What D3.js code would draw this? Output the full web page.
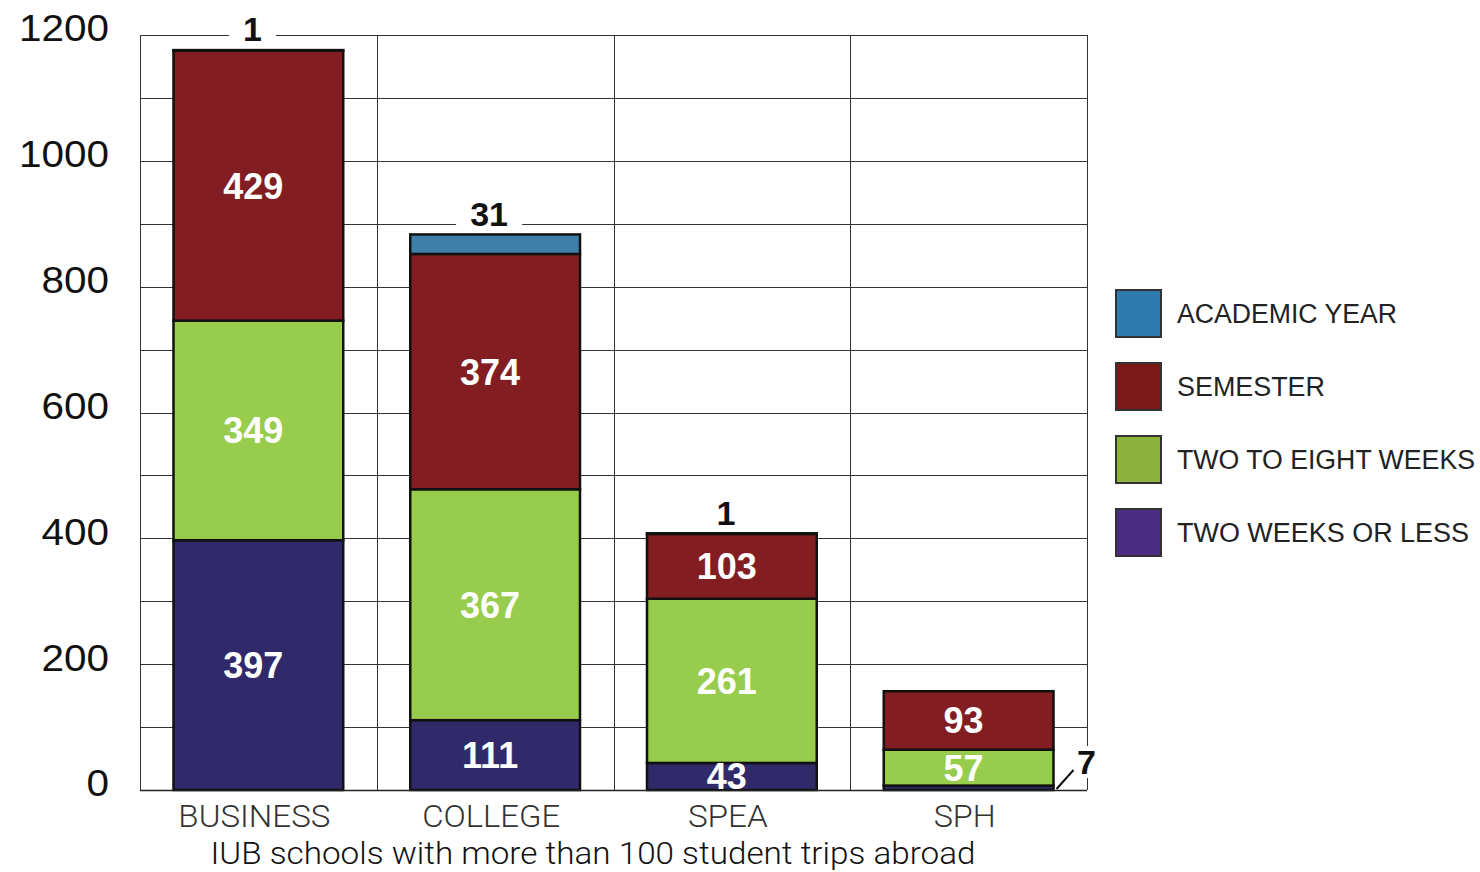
<!DOCTYPE html>
<html>
<head>
<meta charset="utf-8">
<script src="https://cdn.jsdelivr.net/npm/d3@7"></script>
<style>
  html, body { margin: 0; padding: 0; background: #fff; }
  svg { display: block; }
</style>
</head>
<body>
<svg id="chart" width="1480" height="872"></svg>
<script>
// ---------- data ----------
const categories = ["BUSINESS", "COLLEGE", "SPEA", "SPH"];
const seriesNames = ["TWO WEEKS OR LESS", "TWO TO EIGHT WEEKS", "SEMESTER", "ACADEMIC YEAR"];
const twoWeeksOrLess   = [397, 111, 43, 7];
const twoToEightWeeks  = [349, 367, 261, 57];
const semester         = [429, 374, 103, 93];
const academicYear     = [1, 31, 1, 0];
const yTicks = [0, 200, 400, 600, 800, 1000, 1200];
const legendOrder = ["ACADEMIC YEAR", "SEMESTER", "TWO TO EIGHT WEEKS", "TWO WEEKS OR LESS"];
const xTitle = "IUB schools with more than 100 student trips abroad";

// ---------- styles ----------
const barColors = {
  "TWO WEEKS OR LESS": "#302a6a",
  "TWO TO EIGHT WEEKS": "#98cc4c",
  "SEMESTER": "#821e21",
  "ACADEMIC YEAR": "#4080a8"
};
const legendColors = {
  "ACADEMIC YEAR": "#2e7bb0",
  "SEMESTER": "#7b1818",
  "TWO TO EIGHT WEEKS": "#8cb23c",
  "TWO WEEKS OR LESS": "#4a2d82"
};

const rows = categories.map((c, i) => ({
  cat: c,
  "TWO WEEKS OR LESS": twoWeeksOrLess[i],
  "TWO TO EIGHT WEEKS": twoToEightWeeks[i],
  "SEMESTER": semester[i],
  "ACADEMIC YEAR": academicYear[i]
}));

const svg = d3.select("#chart");
const L = 140, R = 1087, T = 35, B = 790;
const numFont = "'Liberation Sans', Arial, sans-serif";

const x = d3.scaleBand().domain(categories).range([L, R]).paddingInner(0.283).paddingOuter(0.1415);
const y = d3.scaleLinear().domain([0, 1200]).range([B, T]);

// grid
const grid = svg.append("g");
grid.selectAll("line.h").data(d3.range(0, 1201, 100)).join("line")
  .attr("x1", L).attr("x2", R)
  .attr("y1", d => Math.round(y(d)) + 0.5).attr("y2", d => Math.round(y(d)) + 0.5)
  .attr("stroke", "#333").attr("stroke-width", 1);
const bounds = [L].concat(categories.map(c => x(c) + x.bandwidth() + x.step() * x.paddingInner() / 2));
bounds[bounds.length - 1] = R;
grid.selectAll("line.v").data(bounds).join("line")
  .attr("x1", d => Math.round(d) + 0.5).attr("x2", d => Math.round(d) + 0.5)
  .attr("y1", T).attr("y2", B)
  .attr("stroke", "#333").attr("stroke-width", 1);

// y-axis labels
const yAxis = d3.axisLeft(y).tickValues(yTicks).tickFormat(d3.format("d")).tickSize(0).tickPadding(0);
const yg = svg.append("g").attr("transform", `translate(${L - 31},0)`).call(yAxis);
yg.select(".domain").remove();
yg.selectAll("text")
  .attr("font-family", numFont)
  .attr("font-size", 37).attr("fill", "#111")
  .attr("dy", "0.32em")
  .attr("y", -6)
  .attr("textLength", d => String(d).length * 22.5)
  .attr("lengthAdjust", "spacingAndGlyphs");

// stack
const stack = d3.stack().keys(seriesNames);
const stacked = stack(rows);

const barsG = svg.append("g");
stacked.forEach(layer => {
  barsG.selectAll(null).data(layer.filter(d => d[1] - d[0] > 0)).join("rect")
    .attr("x", d => x(d.data.cat))
    .attr("width", x.bandwidth())
    .attr("y", d => y(d[1]))
    .attr("height", d => y(d[0]) - y(d[1]))
    .attr("fill", barColors[layer.key])
    .attr("stroke", "#111")
    .attr("stroke-width", 2.5);
});

// inner labels (white) for segments big enough (not the top academic-year layer)
const inner = svg.append("g");
stacked.slice(0, 3).forEach(layer => {
  inner.selectAll(null).data(layer.filter(d => (d[1] - d[0]) >= 30)).join("text")
    .attr("x", d => x(d.data.cat) + x.bandwidth() / 2 - 5)
    .attr("y", d => (y(d[0]) + y(d[1])) / 2)
    .attr("dy", "0.36em")
    .attr("text-anchor", "middle")
    .attr("font-family", numFont)
    .attr("font-weight", "bold")
    .attr("font-size", 36)
    .attr("fill", "#fff")
    .text(d => d[1] - d[0]);
});

// top labels (academic year) with white background
const topLayer = stacked[3];
const topG = svg.append("g");
topLayer.filter(d => d[1] - d[0] > 0).forEach(d => {
  const cx = x(d.data.cat) + x.bandwidth() / 2 - 6;
  const cy = y(d[1]) - 21;
  const txt = String(d[1] - d[0]);
  const w = txt.length * 19 + 28;
  topG.append("rect").attr("x", cx - w / 2).attr("y", cy - 16).attr("width", w).attr("height", 30).attr("fill", "#fff");
  topG.append("text").attr("x", cx).attr("y", cy).attr("dy", "0.36em")
    .attr("text-anchor", "middle")
    .attr("font-family", numFont)
    .attr("font-weight", "bold").attr("font-size", 34).attr("fill", "#111")
    .text(txt);
});

// small bottom segment label with leader (SPH)
const bottomLayer = stacked[0];
bottomLayer.filter(d => (d[1] - d[0]) < 30).forEach(d => {
  const xr = x(d.data.cat) + x.bandwidth();
  const yb = y(d[0]);
  svg.append("line").attr("x1", xr + 3).attr("y1", yb - 1).attr("x2", xr + 20).attr("y2", yb - 20)
    .attr("stroke", "#111").attr("stroke-width", 2);
  svg.append("rect").attr("x", xr + 22).attr("y", yb - 44).attr("width", 22).attr("height", 32).attr("fill", "#fff");
  svg.append("text").attr("x", xr + 33).attr("y", yb - 28).attr("dy", "0.36em")
    .attr("text-anchor", "middle")
    .attr("font-family", numFont)
    .attr("font-weight", "bold").attr("font-size", 34).attr("fill", "#111")
    .text(d[1] - d[0]);
});

// bottom baseline
svg.append("line").attr("x1", L).attr("x2", R).attr("y1", B + 0.5).attr("y2", B + 0.5)
  .attr("stroke", "#222").attr("stroke-width", 1.5);

// x-axis category labels
const xAxis = d3.axisBottom(x).tickSize(0).tickPadding(0);
const xg = svg.append("g").attr("transform", `translate(0,${B})`).call(xAxis);
xg.select(".domain").remove();
xg.selectAll("text")
  .attr("x", -4)
  .attr("font-family", "Roboto, 'Liberation Sans', sans-serif")
  .attr("font-weight", 300)
  .attr("font-size", 32).attr("fill", "#333")
  .attr("y", 25).attr("dy", "0.36em")
  .attr("textLength", d => ({ "BUSINESS": 152, "COLLEGE": 138, "SPEA": 80, "SPH": 62 })[d])
  .attr("lengthAdjust", "spacingAndGlyphs");

// x title
svg.append("text").attr("x", 593).attr("y", 864)
  .attr("text-anchor", "middle")
  .attr("font-family", "Roboto, 'Liberation Sans', sans-serif")
  .attr("font-weight", 300)
  .attr("font-size", 31).attr("fill", "#111")
  .attr("textLength", 765).attr("lengthAdjust", "spacingAndGlyphs")
  .text(xTitle);

// legend
const legY = d3.scalePoint().domain(legendOrder).range([313, 532]);
const leg = svg.append("g");
const legWidths = { "ACADEMIC YEAR": 220, "SEMESTER": 148, "TWO TO EIGHT WEEKS": 298, "TWO WEEKS OR LESS": 292 };
legendOrder.forEach(k => {
  const cy = legY(k);
  leg.append("rect").attr("x", 1116).attr("y", cy - 23).attr("width", 45).attr("height", 47)
    .attr("fill", legendColors[k]).attr("stroke", "#333").attr("stroke-width", 2);
  leg.append("text").attr("x", 1177).attr("y", cy).attr("dy", "0.36em")
    .attr("font-family", numFont)
    .attr("font-size", 27).attr("fill", "#222")
    .attr("textLength", legWidths[k]).attr("lengthAdjust", "spacingAndGlyphs")
    .text(k);
});
</script>
</body>
</html>
